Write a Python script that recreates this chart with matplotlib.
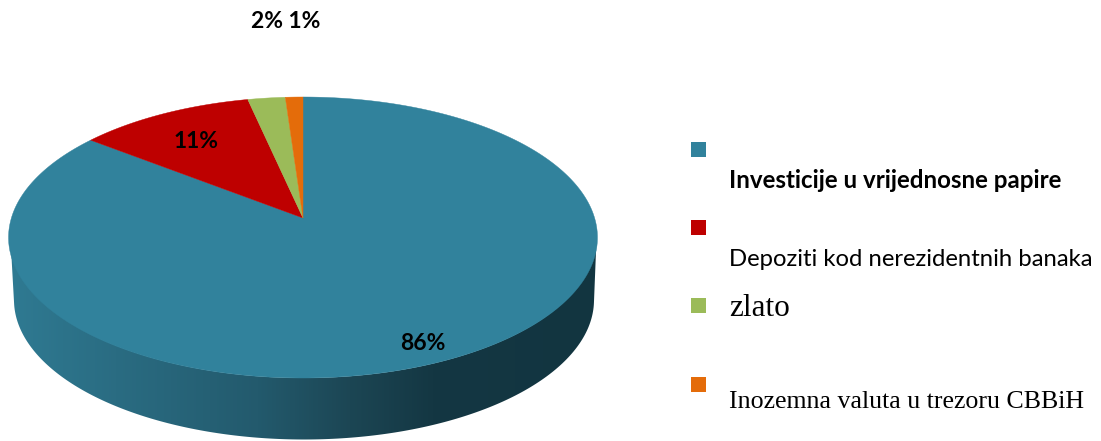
import numpy as np
import matplotlib
matplotlib.use("Agg")
import matplotlib.pyplot as plt
from matplotlib.patches import Polygon, Rectangle
from matplotlib.colors import LinearSegmentedColormap

categories = ["Investicije u vrijednosne papire", "Depoziti kod nerezidentnih banaka",
              "zlato", "Inozemna valuta u trezoru CBBiH"]
values = [85.5, 11.05, 2.35, 1.1]
value_labels = ["86%", "11%", "2%", "1%"]
colors = ["#31829c", "#be0000", "#9bbb59", "#e46c0a"]

W, H = 1101, 441
fig = plt.figure(figsize=(W / 100, H / 100), dpi=100)
ax = fig.add_axes([0, 0, 1, 1])
ax.set_xlim(0, W)
ax.set_ylim(H, 0)
ax.axis("off")

# Perspective disc: apex at (303,218), rim top 97, rim bottom 378
CX, CY = 303.0, 218.0
k, b, a = 0.1388, 137.8, 291.6


def project(t):
    x, y = np.sin(t), np.cos(t)
    d = 1 + k * y
    return CX + a * x / d, CY - b * y / d


# Side wall with horizontal gradient
th = np.linspace(np.pi / 2 + 0.02, 3 * np.pi / 2 - 0.02, 200)
top_cx, top_cy, top_rx, top_ry = 303.5, 237.5, 293.0, 140.5
bot_cx, bot_cy, bot_rx, bot_ry = 304.0, 300.0, 290.0, 139.5
tx = top_cx + top_rx * np.sin(th)
ty = top_cy - top_ry * np.cos(th)
bx = bot_cx + bot_rx * np.sin(th)
by = bot_cy - bot_ry * np.cos(th)
wall = Polygon(np.r_[np.c_[tx, ty], np.c_[bx, by][::-1]], closed=True,
               transform=ax.transData, facecolor="none", edgecolor="none")
ax.add_patch(wall)
cmap = LinearSegmentedColormap.from_list(
    "wall", [(0, "#2f7a92"), (0.18, "#2a6c82"), (0.42, "#235a6d"), (0.58, "#1c4654"),
             (0.72, "#143743"), (1, "#123540")])
im = ax.imshow(np.linspace(0, 1, 512).reshape(1, -1), cmap=cmap, aspect="auto",
               extent=(10, 598, H, 230), zorder=1)
im.set_clip_path(wall)
ax.set_xlim(0, W)
ax.set_ylim(H, 0)

# Slices, clockwise from 12 o'clock
fractions = np.cumsum([0] + values) / sum(values)
for i, color in enumerate(colors):
    t = 2 * np.pi * np.linspace(fractions[i], fractions[i + 1], 400)
    px, py = project(t)
    ax.add_patch(Polygon(np.r_[[[CX, CY]], np.c_[px, py]], closed=True,
                         facecolor=color, edgecolor=color, linewidth=0.3, zorder=2))

sans = "Lato"
bold = dict(family=sans, fontweight="bold", color="black", ha="center", va="center", zorder=3)
ax.text(423, 343, value_labels[0], fontsize=16.5, **bold)
ax.text(196, 142, value_labels[1], fontsize=16.5, **bold)
ax.text(286, 22, value_labels[2] + " " + value_labels[3], fontsize=16.5, **bold)

# Legend
for y, color in zip([142, 220, 298, 377], colors):
    ax.add_patch(Rectangle((691, y), 15, 15, facecolor=color, edgecolor="none"))
ax.text(729, 181, categories[0], family=sans, fontweight="bold", fontsize=17.4, va="center", color="black")
ax.text(729, 260, categories[1], family=sans, fontsize=17.2, va="center", color="black")
ax.text(729, 309, categories[2], family="Liberation Serif", fontsize=22.5, va="center", color="black")
ax.text(729, 402, categories[3], family="Liberation Serif", fontsize=18.6, va="center", color="black")

fig.savefig("out.png", dpi=100)
